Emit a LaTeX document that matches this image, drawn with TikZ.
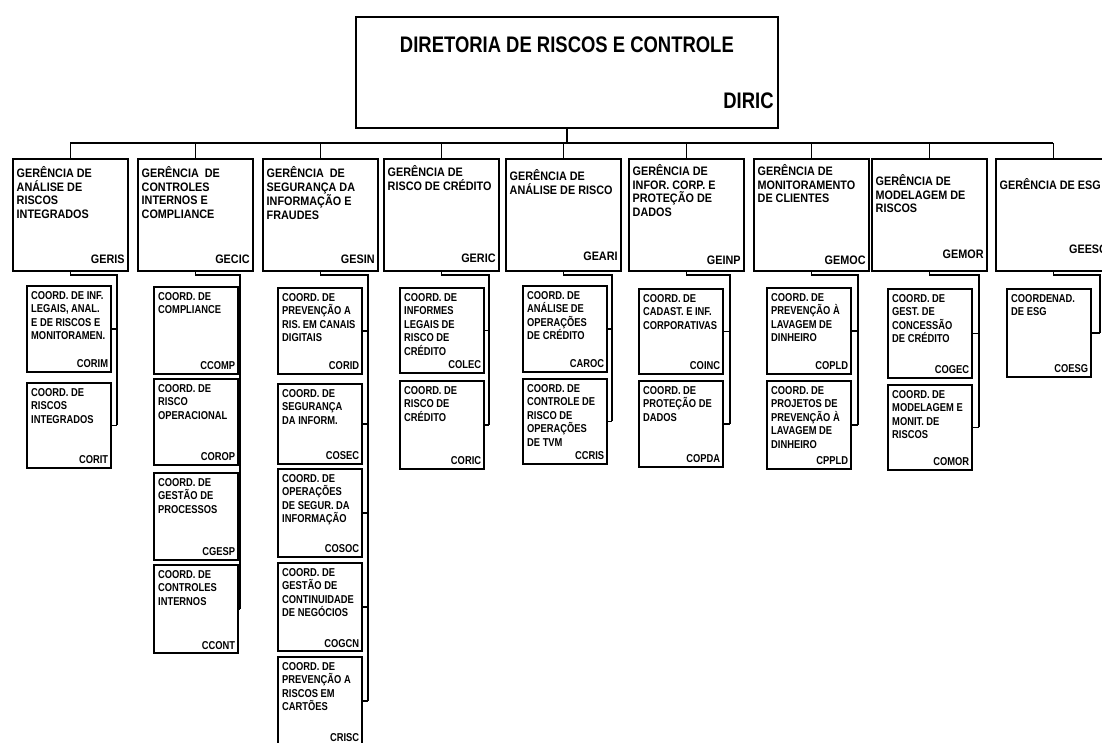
\documentclass[tikz,border=0pt]{standalone}
\usepackage{fontspec}
\setmainfont{Liberation Sans}
\newfontfamily\narrowfont{Liberation Sans}[FakeStretch=0.82]
\newfontfamily\gerfont{Liberation Sans}[FakeStretch=0.88]
\usepackage{tikz}
\usetikzlibrary{calc}

% gerencia box: name, x, title, code, title drop, code lift
\newcommand{\gerbox}[6]{%
  \node[gbox] (#1) at (#2,158) {};
  \node[gtext] (#1-t) at ([shift={(4.5pt,-#5pt)}]#1.north west) {#3};
  \node[gcode] (#1-c) at ([shift={(-4pt,#6pt)}]#1.south east) {#4};
}
% coordenacao box: name, x, top, bottom, title, code
\newcommand{\coordbox}[6]{%
  \node[cbox, minimum height={#4-#3}] (#1) at (#2,#3) {};
  \node[ctext] (#1-t) at ([shift={(5pt,-6pt)}]#1.north west) {#5};
  \node[ccode] (#1-c) at ([shift={(-3.5pt,4.5pt)}]#1.south east) {#6};
}

\begin{document}
\begin{tikzpicture}[x=1pt, y=-1pt,
  gbox/.style={draw, line width=1.8pt, anchor=north west, minimum width=115pt, minimum height=112pt, inner sep=0pt},
  cbox/.style={draw, line width=1.8pt, anchor=north west, minimum width=84pt, inner sep=0pt},
  gtext/.style={anchor=north west, align=left, inner sep=0pt, font=\gerfont\bfseries\fontsize{12.3}{13.5}\selectfont},
  gcode/.style={anchor=south east, inner sep=0pt, font=\gerfont\bfseries\fontsize{12.3}{13.5}\selectfont},
  ctext/.style={anchor=north west, align=left, inner sep=0pt, font=\narrowfont\bfseries\fontsize{11.4}{13.5}\selectfont},
  ccode/.style={anchor=south east, inner sep=0pt, font=\narrowfont\bfseries\fontsize{11.4}{13.5}\selectfont},
  link/.style={line width=1.6pt}]
  \clip (0,0) rectangle (1102,742);

  % Diretoria
  \node[draw, line width=1.8pt, anchor=north west, minimum width=422pt, minimum height=111pt, inner sep=0pt] (diric) at (355,16) {};
  \node[anchor=north, inner sep=0pt, font=\narrowfont\bfseries\fontsize{22.5}{25}\selectfont] (diric-t) at ([yshift=-21pt]diric.north) {DIRETORIA DE RISCOS E CONTROLE};
  \node[anchor=south east, inner sep=0pt, font=\narrowfont\bfseries\fontsize{22.5}{25}\selectfont] (diric-c) at ([shift={(-5pt,20pt)}]diric.south east) {DIRIC};

  % Gerencias
  \gerbox{geris}{12}{GERÊNCIA DE\\ANÁLISE DE\\RISCOS\\INTEGRADOS}{GERIS}{8.5}{8}
  \gerbox{gecic}{137}{GERÊNCIA~ DE\\CONTROLES\\INTERNOS E\\COMPLIANCE}{GECIC}{8.5}{8}
  \gerbox{gesin}{262}{GERÊNCIA~ DE\\SEGURANÇA DA\\INFORMAÇÃO E\\FRAUDES}{GESIN}{8.5}{8}
  \gerbox{geric}{383}{GERÊNCIA DE\\RISCO DE CRÉDITO}{GERIC}{7.5}{9}
  \gerbox{geari}{505}{GERÊNCIA DE\\ANÁLISE DE RISCO}{GEARI}{11.5}{11}
  \gerbox{geinp}{628}{GERÊNCIA DE\\INFOR. CORP. E\\PROTEÇÃO DE\\DADOS}{GEINP}{6.5}{7}
  \gerbox{gemoc}{753}{GERÊNCIA DE\\MONITORAMENTO\\DE CLIENTES}{GEMOC}{6.5}{7}
  \gerbox{gemor}{871}{GERÊNCIA DE\\MODELAGEM DE\\RISCOS}{GEMOR}{16.5}{13}
  \gerbox{geesg}{995}{GERÊNCIA DE ESG}{GEESG}{20.5}{18}

  % Bus
  \coordinate (bus) at (0,143);
  \draw[link] (diric.south) -- (diric.south |- bus);
  \draw[link] (geris.north |- bus) -- (geesg.north |- bus);
  \foreach \g in {geris,gecic,gesin,geric,geari,geinp,gemoc,gemor,geesg}
    \draw[link] (\g.north) -- (\g.north |- bus);

  % Coordenacoes
  \coordbox{corim}{26}{285}{371}{COORD. DE INF.\\LEGAIS, ANAL.\\E DE RISCOS E\\MONITORAMEN.}{CORIM}
  \coordbox{corit}{26}{382}{467}{COORD. DE\\RISCOS\\INTEGRADOS}{CORIT}
  \coordbox{ccomp}{153}{286}{373}{COORD. DE\\COMPLIANCE}{CCOMP}
  \coordbox{corop}{153}{378}{464}{COORD. DE\\RISCO\\OPERACIONAL}{COROP}
  \coordbox{cgesp}{153}{472}{559}{COORD. DE\\GESTÃO DE\\PROCESSOS}{CGESP}
  \coordbox{ccont}{153}{564}{652}{COORD. DE\\CONTROLES\\INTERNOS}{CCONT}
  \coordbox{corid}{277}{287}{373}{COORD. DE\\PREVENÇÃO A\\RIS. EM CANAIS\\DIGITAIS}{CORID}
  \coordbox{cosec}{277}{383}{463}{COORD. DE\\SEGURANÇA\\DA INFORM.}{COSEC}
  \coordbox{cosoc}{277}{468}{556}{COORD. DE\\OPERAÇÕES\\DE SEGUR. DA\\INFORMAÇÃO}{COSOC}
  \coordbox{cogcn}{277}{562}{650}{COORD. DE\\GESTÃO DE\\CONTINUIDADE\\DE NEGÓCIOS}{COGCN}
  \coordbox{crisc}{277}{656}{744}{COORD. DE\\PREVENÇÃO A\\RISCOS EM\\CARTÕES}{CRISC}
  \coordbox{colec}{399}{287}{372}{COORD. DE\\INFORMES\\LEGAIS DE\\RISCO DE\\CRÉDITO}{COLEC}
  \coordbox{coric}{399}{380}{468}{COORD. DE\\RISCO DE\\CRÉDITO}{CORIC}
  \coordbox{caroc}{522}{285}{371}{COORD. DE\\ANÁLISE DE\\OPERAÇÕES\\DE CRÉDITO}{CAROC}
  \coordbox{ccris}{522}{378}{463}{COORD. DE\\CONTROLE DE\\RISCO DE\\OPERAÇÕES\\DE TVM}{CCRIS}
  \coordbox{coinc}{638}{288}{373}{COORD. DE\\CADAST. E INF.\\CORPORATIVAS}{COINC}
  \coordbox{copda}{638}{380}{466}{COORD. DE\\PROTEÇÃO DE\\DADOS}{COPDA}
  \coordbox{copld}{766}{287}{373}{COORD. DE\\PREVENÇÃO À\\LAVAGEM DE\\DINHEIRO}{COPLD}
  \coordbox{cppld}{766}{380}{468}{COORD. DE\\PROJETOS DE\\PREVENÇÃO À\\LAVAGEM DE\\DINHEIRO}{CPPLD}
  \coordbox{cogec}{887}{288}{377}{COORD. DE\\GEST. DE\\CONCESSÃO\\DE CRÉDITO}{COGEC}
  \coordbox{comor}{887}{384}{469}{COORD. DE\\MODELAGEM E\\MONIT. DE\\RISCOS}{COMOR}
  \coordbox{coesg}{1006}{288}{376}{COORDENAD.\\DE ESG}{COESG}

  % Spines: gerencia -> side line -> coordenacoes
  \foreach \g/\x/\last in {geris/117/corit, gecic/240/ccont, gesin/368/crisc, geric/489/coric,
      geari/612/ccris, geinp/730/copda, gemoc/858/cppld, gemor/979/comor, geesg/1100/coesg}{
    \coordinate (\g-s) at (\x,275);
    \draw[link] (\g.south) |- (\g-s) -- (\g-s |- \last.east);
  }
  \foreach \c/\g in {corim/geris, corit/geris, ccomp/gecic, corop/gecic, cgesp/gecic, ccont/gecic,
      corid/gesin, cosec/gesin, cosoc/gesin, cogcn/gesin, crisc/gesin, colec/geric, coric/geric,
      caroc/geari, ccris/geari, coinc/geinp, copda/geinp, copld/gemoc, cppld/gemoc,
      cogec/gemor, comor/gemor, coesg/geesg}
    \draw[link] (\c.east) -- (\c.east -| \g-s);
\end{tikzpicture}
\end{document}
